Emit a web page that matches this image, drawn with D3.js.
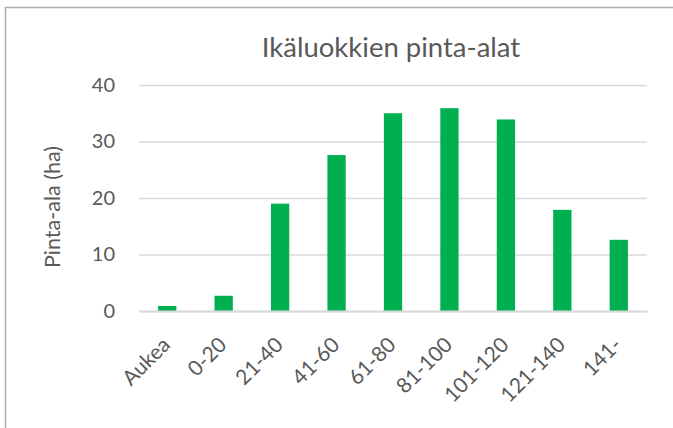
<!DOCTYPE html>
<html>
<head>
<meta charset="utf-8">
<script src="https://cdn.jsdelivr.net/npm/d3@7"></script>
<style>
  body { margin: 0; background: #fff; }
  text { font-family: Lato, "Open Sans", sans-serif; fill: #595959; }
</style>
</head>
<body>
<svg width="673" height="428"></svg>
<script>
// Data: ikäluokat ja pinta-alat (ha)
var categories = ["Aukea", "0-20", "21-40", "41-60", "61-80", "81-100", "101-120", "121-140", "141-"];
var areas = [0.9, 2.7, 19, 27.6, 35, 35.9, 33.9, 17.9, 12.6];
var yTicks = [0, 10, 20, 30, 40];

var data = categories.map(function(c, i) { return {label: c, value: areas[i]}; });

var svg = d3.select("svg"),
    margin = {top: 85, right: 26, bottom: 117, left: 139},
    width = 673 - margin.left - margin.right,
    height = 428 - margin.top - margin.bottom,
    g = svg.append("g").attr("transform", "translate(" + margin.left + "," + margin.top + ")");

// kaavion reunat (ylä ja vasen)
svg.append("path")
    .attr("d", "M5.5,440V7.5H680")
    .attr("fill", "none")
    .attr("stroke", "#ababab")
    .attr("stroke-width", 1.5);

var x = d3.scaleBand()
    .domain(categories)
    .range([0, width])
    .paddingInner(0.676)
    .paddingOuter(0.338);

var y = d3.scaleLinear()
    .domain([0, 40])
    .range([height, 0]);

// y-akseli ja ruudukko
var yAxis = g.append("g")
    .call(d3.axisLeft(y).tickValues(yTicks).tickSize(-width).tickPadding(24));
yAxis.select(".domain").remove();
yAxis.selectAll("line")
    .attr("stroke", "#d9d9d9")
    .attr("stroke-width", 1.5);
yAxis.selectAll("text")
    .attr("font-size", 20)
    .attr("fill", "#595959");

// pylväät
g.append("g")
    .selectAll("rect")
    .data(data)
    .enter().append("rect")
    .attr("x", function(d) { return x(d.label); })
    .attr("y", function(d) { return y(d.value); })
    .attr("width", x.bandwidth())
    .attr("height", function(d) { return y(0) - y(d.value); })
    .attr("fill", "#00b050");

// x-akseli
var xAxis = g.append("g")
    .attr("transform", "translate(0," + height + ")")
    .call(d3.axisBottom(x).tickSize(0));
xAxis.select(".domain")
    .attr("stroke", "#d9d9d9")
    .attr("stroke-width", 2);
xAxis.selectAll("text")
    .attr("font-size", 21)
    .attr("fill", "#595959")
    .attr("text-anchor", "end")
    .attr("dy", "0.35em")
    .attr("transform", "translate(-1,30) rotate(-45)")
    .attr("y", 0);

// akselin otsikko
svg.append("text")
    .attr("transform", "translate(52,207) rotate(-90)")
    .attr("text-anchor", "middle")
    .attr("dy", "0.35em")
    .attr("font-size", 21.5)
    .text("Pinta-ala (ha)");

// otsikko
svg.append("text")
    .attr("x", 391)
    .attr("y", 57)
    .attr("text-anchor", "middle")
    .attr("font-size", 27.5)
    .text("Ikäluokkien pinta-alat");
</script>
</body>
</html>
